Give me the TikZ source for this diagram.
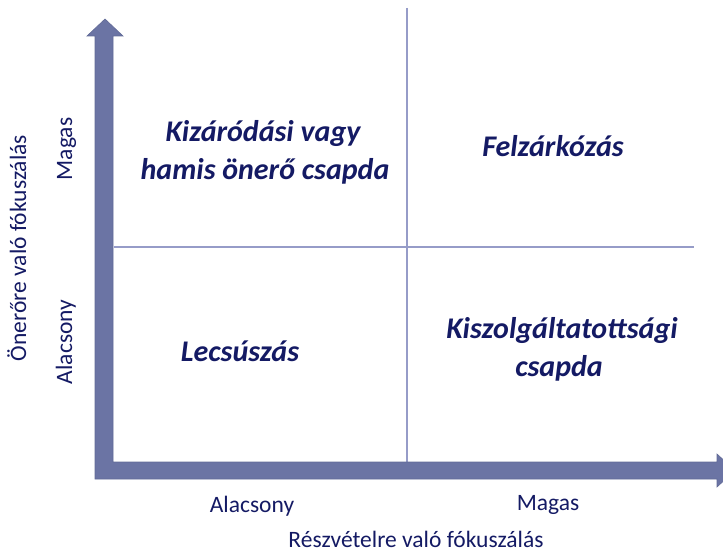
\documentclass[tikz,border=0pt]{standalone}
\usepackage{fontspec}
\setmainfont{Carlito}
\definecolor{axisfill}{RGB}{107,116,164}
\definecolor{gridline}{RGB}{150,156,200}
\definecolor{navy}{RGB}{20,26,100}
\begin{document}
\begin{tikzpicture}[x=1pt,y=-1pt,
  quad/.style={font=\fontsize{30}{37}\selectfont\bfseries\itshape, text=navy, align=center, inner sep=0pt},
  axlabel/.style={font=\fontsize{23.5}{27}\selectfont, text=navy, inner sep=0pt, anchor=base},
  arrowshape/.style={fill=axisfill, draw=axisfill!92!black, line width=0.6pt},
  divider/.style={draw=gridline, line width=1.3pt}]
\useasboundingbox (0,0) rectangle (723,553);
% divider lines
\coordinate (vtop) at (407,8);
\coordinate (vbot) at (407,462);
\coordinate (hleft) at (114,247);
\coordinate (hright) at (694,247);
\draw[divider] (vtop) -- (vbot);
\draw[divider] (hleft) -- (hright);
% axes arrows
\path[arrowshape] (95,479) -- (95,36) -- (87,36) -- (105,19) -- (123,36) -- (113,36) -- (113,462) -- (717,462) -- (717,454) -- (735,470.5) -- (717,487) -- (717,479) -- cycle;
% quadrant texts
\node[quad, anchor=base] (q1a) at (263,142) {Kizáródási vagy};
\node[quad, anchor=base] (q1b) at (265,180) {hamis önerő csapda};
\node[quad, anchor=base] (q2) at (553,157) {Felzárkózás};
\node[quad, anchor=base] (q3) at (240,362) {Lecsúszás};
\node[quad, anchor=base] (q4a) at (562,339) {Kiszolgáltatottsági};
\node[quad, anchor=base] (q4b) at (559,376) {csapda};
% axis labels
\node[axlabel] (xlow) at (252,512) {Alacsony};
\node[axlabel] (xhigh) at (548,510) {Magas};
\node[axlabel] (xtitle) at (416,547) {Részvételre való fókuszálás};
\node[axlabel, rotate=90] (yhigh) at (72,149) {Magas};
\node[axlabel, rotate=90] (ylow) at (72,342) {Alacsony};
\node[axlabel, rotate=90] (ytitle) at (26,248) {Önerőre való fókuszálás};
\end{tikzpicture}
\end{document}
